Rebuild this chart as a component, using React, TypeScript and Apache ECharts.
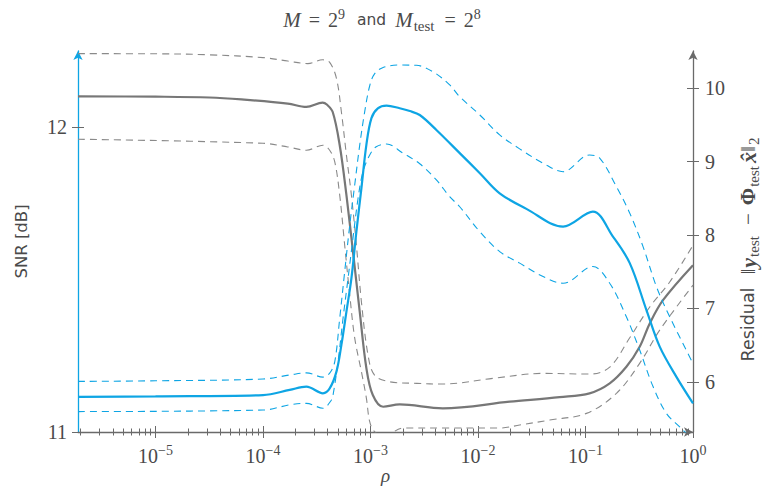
import React, { useEffect, useRef } from 'react';
import * as echarts from 'echarts';

// ---------- x range & ticks ----------
const RHO_MIN = 1.9e-6;
const RHO_MAX = 1;
const decadeTicks = [1e-5, 1e-4, 1e-3, 1e-2, 1e-1, 1];
const minorDecades = [1e-6, 1e-5, 1e-4, 1e-3, 1e-2, 1e-1];
const minorMultipliers = [2, 3, 4, 5, 6, 7, 8, 9];
const snrTicks = [11, 12];
const residualTicks = [6, 7, 8, 9, 10];

// ---------- SNR (left axis, blue) ----------
const rhoSnrMean = [1.9e-6, 1e-5, 1e-4, 1.77e-4, 2.53e-4, 3.61e-4, 4.17e-4, 4.82e-4, 5.36e-4, 5.97e-4, 6.64e-4, 7.39e-4, 8.23e-4, 9.15e-4, 1.02e-3, 1.17e-3, 1.41e-3, 1.87e-3, 2.32e-3, 2.87e-3, 4.1e-3, 6.76e-3, 1.04e-2, 1.59e-2, 2.82e-2, 6.18e-2, 0.117, 0.18, 0.258, 0.369, 0.49, 0.701, 1];
const snrMean = [11.115, 11.117, 11.121, 11.138, 11.149, 11.127, 11.143, 11.198, 11.286, 11.395, 11.504, 11.657, 11.8, 11.942, 12.03, 12.062, 12.071, 12.062, 12.053, 12.04, 11.991, 11.915, 11.849, 11.783, 11.732, 11.674, 11.723, 11.641, 11.554, 11.4, 11.28, 11.181, 11.094];

const rhoSnrUpper = [1.9e-6, 1e-5, 1e-4, 1.77e-4, 2.53e-4, 3.61e-4, 4.17e-4, 4.65e-4, 5.17e-4, 5.75e-4, 6.41e-4, 7.13e-4, 7.94e-4, 8.83e-4, 9.83e-4, 1.09e-3, 1.31e-3, 1.87e-3, 2.67e-3, 3.81e-3, 5.45e-3, 6.76e-3, 1.04e-2, 1.59e-2, 2.44e-2, 4.03e-2, 6.18e-2, 0.109, 0.136, 0.194, 0.258, 0.343, 0.457, 0.607, 1];
const snrUpper = [11.166, 11.168, 11.174, 11.187, 11.194, 11.18, 11.193, 11.231, 11.373, 11.526, 11.679, 11.811, 11.942, 12.051, 12.136, 12.175, 12.196, 12.204, 12.203, 12.182, 12.139, 12.1, 12.04, 11.975, 11.929, 11.882, 11.854, 11.909, 11.898, 11.805, 11.718, 11.608, 11.477, 11.378, 11.225];

const rhoSnrLower = [1.9e-6, 1e-4, 1.77e-4, 2.53e-4, 3.61e-4, 4.33e-4, 4.48e-4, 4.99e-4, 5.55e-4, 6.18e-4, 6.87e-4, 7.66e-4, 8.51e-4, 9.83e-4, 1.13e-3, 1.41e-3, 2.0e-3, 2.87e-3, 4.1e-3, 5.45e-3, 6.76e-3, 1.04e-2, 1.59e-2, 2.44e-2, 4.03e-2, 6.18e-2, 0.117, 0.168, 0.24, 0.319, 0.425, 0.566, 0.752, 1];
const snrLower = [11.067, 11.072, 11.089, 11.094, 11.078, 11.105, 11.121, 11.231, 11.373, 11.504, 11.636, 11.767, 11.854, 11.909, 11.936, 11.945, 11.915, 11.88, 11.827, 11.772, 11.739, 11.657, 11.592, 11.554, 11.51, 11.488, 11.543, 11.488, 11.378, 11.269, 11.149, 11.061, 11.017, 10.974];

// ---------- Residual (right axis, gray) ----------
const rhoResMean = [1.9e-6, 1e-5, 3.16e-5, 6.3e-5, 1.7e-4, 2.53e-4, 3.59e-4, 3.92e-4, 4.45e-4, 5.17e-4, 5.97e-4, 6.87e-4, 7.94e-4, 9.15e-4, 1.05e-3, 1.31e-3, 1.87e-3, 4.7e-3, 1.97e-2, 5.75e-2, 0.109, 0.168, 0.24, 0.319, 0.396, 0.526, 1];
const resMean = [9.892, 9.887, 9.876, 9.85, 9.793, 9.747, 9.807, 9.78, 9.678, 9.225, 8.544, 7.771, 6.954, 6.187, 5.819, 5.659, 5.692, 5.638, 5.728, 5.79, 5.842, 5.978, 6.204, 6.477, 6.796, 7.113, 7.59];

const rhoResUpper = [1.9e-6, 1e-5, 3.16e-5, 1e-4, 1.7e-4, 2.61e-4, 3.59e-4, 4.17e-4, 4.82e-4, 5.36e-4, 5.97e-4, 6.64e-4, 7.39e-4, 8.23e-4, 9.48e-4, 1.09e-3, 1.51e-3, 2.69e-3, 4.7e-3, 1.37e-2, 4.0e-2, 0.109, 0.168, 0.258, 0.396, 0.607, 1];
const resUpper = [10.474, 10.472, 10.458, 10.42, 10.373, 10.338, 10.39, 10.355, 10.137, 9.678, 9.089, 8.544, 7.862, 7.09, 6.364, 6.091, 6.0, 5.978, 5.969, 6.046, 6.114, 6.105, 6.2, 6.6, 7.02, 7.36, 7.86];

const rhoResLower = [1.9e-6, 1e-4, 1.7e-4, 2.53e-4, 3.61e-4, 4.17e-4, 4.65e-4, 5.17e-4, 5.75e-4, 6.41e-4, 7.13e-4, 8.23e-4, 9.15e-4, 9.83e-4, 1.09e-3, 1.35e-3, 2.0e-3, 5.45e-3, 1.59e-2, 2.44e-2, 4.65e-2, 0.102, 0.194, 0.319, 0.49, 1];
const resLower = [9.307, 9.252, 9.202, 9.157, 9.225, 9.157, 8.997, 8.544, 7.862, 7.181, 6.595, 6.136, 5.778, 5.455, 5.319, 5.26, 5.369, 5.369, 5.369, 5.41, 5.478, 5.569, 5.842, 6.251, 6.704, 7.317];

const BLUE = '#0ea5e4';
const GRAY_LINE = '#777777';
const GRAY_DASH = '#8a8a8a';
const AXIS_GRAY = '#6a6a6a';
const TEXT = '#4a4a4a';
const SERIF = 'Liberation Serif';
const SANS = 'DejaVu Sans';

const pairs = (xs: number[], ys: number[]) => xs.map((x, i) => [x, ys[i]]);

const minorTicks: number[] = [];
minorDecades.forEach((d) => minorMultipliers.forEach((m) => {
  const v = parseFloat((m * d).toPrecision(3));
  if (v > RHO_MIN && v < RHO_MAX) minorTicks.push(v);
}));

const baseLog = {
  type: 'log' as const,
  logBase: 10,
  min: RHO_MIN,
  max: RHO_MAX,
  gridIndex: 0,
  position: 'bottom' as const,
  splitLine: { show: false },
  minorTick: { show: false },
  minorSplitLine: { show: false },
};

const tickFmt = (v: number) => {
  const e = Math.round(Math.log10(v));
  return `{b|10}{s|${e < 0 ? '\u2212' + -e : e}}`;
};

const SNR_MIN = 11;
const SNR_MAX = 12.25;
const RES_MIN = 5.315;
const RES_MAX = 10.51;

const option: any = {
  animation: false,
  backgroundColor: '#ffffff',
  grid: { left: 78, right: 71, top: 51, bottom: 55, containLabel: false, outerBoundsMode: 'none' },
  title: {
    text: '{mi|M}{op|=}{r|2}{sup|9}{sf|and}{mi|M}{sub|test}{op|=}{r|2}{sup|8}',
    left: 'center',
    top: 2,
    textStyle: {
      fontWeight: 'normal',
      rich: {
        mi: { fontFamily: SERIF, fontStyle: 'italic', fontWeight: 'normal', fontSize: 21, lineHeight: 26, color: TEXT },
        op: { fontFamily: SERIF, fontWeight: 'normal', fontSize: 20, lineHeight: 26, padding: [0, 8, 0, 8], color: TEXT },
        r: { fontFamily: SERIF, fontWeight: 'normal', fontSize: 20, lineHeight: 26, color: TEXT },
        sf: { fontFamily: SANS, fontWeight: 'normal', fontSize: 15.5, lineHeight: 26, padding: [0, 9, 0, 12], color: TEXT },
        sup: { fontFamily: SERIF, fontWeight: 'normal', fontSize: 14, lineHeight: 14, verticalAlign: 'top', color: TEXT },
        sub: { fontFamily: SERIF, fontWeight: 'normal', fontSize: 15, lineHeight: 14, verticalAlign: 'bottom', padding: [0, 2, 0, 1], color: TEXT },
      },
    },
  },
  xAxis: [
    {
      ...baseLog,
      axisLine: { show: true, lineStyle: { color: AXIS_GRAY, width: 1.3 }, symbol: ['none', 'arrow'], symbolSize: [7, 9] },
      axisTick: { show: true, customValues: decadeTicks, length: 6, lineStyle: { color: AXIS_GRAY, width: 1 } },
      axisLabel: {
        show: true,
        customValues: decadeTicks,
        formatter: tickFmt,
        margin: 11,
        rich: {
          b: { fontFamily: SERIF, fontSize: 20, lineHeight: 26, color: TEXT },
          s: { fontFamily: SERIF, fontSize: 14, lineHeight: 15, verticalAlign: 'top', color: TEXT },
        },
      },
      name: '\u03c1',
      nameLocation: 'middle',
      nameGap: 34,
      nameMoveOverlap: false,
      nameTextStyle: { fontFamily: SERIF, fontStyle: 'italic', fontSize: 19, lineHeight: 19, color: TEXT },
    },
    {
      ...baseLog,
      axisLine: { show: false },
      axisTick: { show: true, inside: true, customValues: decadeTicks, length: 6, lineStyle: { color: AXIS_GRAY, width: 1 } },
      axisLabel: { show: false },
    },
    {
      ...baseLog,
      axisLine: { show: false },
      axisTick: { show: true, customValues: minorTicks, length: 3.5, lineStyle: { color: AXIS_GRAY, width: 1 } },
      axisLabel: { show: false },
    },
    {
      ...baseLog,
      axisLine: { show: false },
      axisTick: { show: true, inside: true, customValues: minorTicks, length: 3.5, lineStyle: { color: AXIS_GRAY, width: 1 } },
      axisLabel: { show: false },
    },
  ],
  yAxis: [
    {
      type: 'value',
      position: 'left',
      min: SNR_MIN,
      max: SNR_MAX,
      splitLine: { show: false },
      axisLine: { show: true, lineStyle: { color: BLUE, width: 1.3 }, symbol: ['none', 'arrow'], symbolSize: [7, 9] },
      axisTick: { show: true, customValues: snrTicks, length: 6, lineStyle: { color: AXIS_GRAY } },
      axisLabel: { show: true, customValues: snrTicks, margin: 11, fontFamily: SERIF, fontSize: 20, color: TEXT },
      name: 'SNR [dB]',
      nameLocation: 'middle',
      nameRotate: 90,
      nameGap: 48,
      nameTextStyle: { fontFamily: SANS, fontSize: 16.5, color: TEXT },
    },
    {
      type: 'value',
      position: 'right',
      min: RES_MIN,
      max: RES_MAX,
      splitLine: { show: false },
      axisLine: { show: true, lineStyle: { color: AXIS_GRAY, width: 1.3 }, symbol: ['none', 'arrow'], symbolSize: [7, 9] },
      axisTick: { show: true, customValues: residualTicks, length: 6, lineStyle: { color: AXIS_GRAY } },
      axisLabel: { show: true, customValues: residualTicks, margin: 12, fontFamily: SERIF, fontSize: 20, color: TEXT },
      name: '{sf|Residual}{n1|\u2016}{bi|y}{sb|test}{op|\u2212}{b|\u03a6}{sb|test}{bi|x\u0302}{n|\u2016}{se|2}',
      nameLocation: 'middle',
      nameRotate: 90,
      nameGap: 42,
      nameTextStyle: {
        rich: {
          sf: { fontFamily: SANS, fontSize: 17.5, lineHeight: 26, color: TEXT },
          n1: { fontFamily: SERIF, fontSize: 21, lineHeight: 26, padding: [0, 1, 0, 13], color: TEXT },
          n: { fontFamily: SERIF, fontSize: 21, lineHeight: 26, color: TEXT },
          op: { fontFamily: SERIF, fontSize: 21, lineHeight: 26, padding: [0, 8, 0, 8], color: TEXT },
          bi: { fontFamily: SERIF, fontSize: 22, fontWeight: 'bold', fontStyle: 'italic', lineHeight: 26, color: TEXT },
          b: { fontFamily: SERIF, fontSize: 21, fontWeight: 'bold', lineHeight: 26, color: TEXT },
          sb: { fontFamily: SERIF, fontSize: 15, lineHeight: 14, verticalAlign: 'bottom', padding: [0, 3, 0, 1], color: TEXT },
          se: { fontFamily: SERIF, fontSize: 15, lineHeight: 14, verticalAlign: 'bottom', padding: [0, 16, 0, 1], color: TEXT },
        },
      },
    },
    {
      type: 'value',
      position: 'left',
      min: SNR_MIN,
      max: SNR_MAX,
      splitLine: { show: false },
      axisLine: { show: false },
      axisTick: { show: true, inside: true, customValues: snrTicks, length: 6, lineStyle: { color: AXIS_GRAY } },
      axisLabel: { show: false },
    },
    {
      type: 'value',
      position: 'right',
      min: RES_MIN,
      max: RES_MAX,
      splitLine: { show: false },
      axisLine: { show: false },
      axisTick: { show: true, inside: true, customValues: residualTicks, length: 6, lineStyle: { color: AXIS_GRAY } },
      axisLabel: { show: false },
    },
  ],
  series: [
    {
      name: 'Residual upper', type: 'line', xAxisIndex: 0, yAxisIndex: 1, data: pairs(rhoResUpper, resUpper),
      smooth: 0.35, showSymbol: false, symbol: 'none', lineStyle: { color: GRAY_DASH, width: 1.1, type: [7, 5] },
    },
    {
      name: 'Residual lower', type: 'line', xAxisIndex: 0, yAxisIndex: 1, data: pairs(rhoResLower, resLower),
      smooth: 0.35, showSymbol: false, symbol: 'none', lineStyle: { color: GRAY_DASH, width: 1.1, type: [7, 5] },
    },
    {
      name: 'Residual mean', type: 'line', xAxisIndex: 0, yAxisIndex: 1, data: pairs(rhoResMean, resMean),
      smooth: 0.35, showSymbol: false, symbol: 'none', lineStyle: { color: GRAY_LINE, width: 2.2 },
    },
    {
      name: 'SNR upper', type: 'line', xAxisIndex: 0, yAxisIndex: 0, data: pairs(rhoSnrUpper, snrUpper),
      smooth: 0.35, showSymbol: false, symbol: 'none', lineStyle: { color: BLUE, width: 1.1, type: [7, 5] },
    },
    {
      name: 'SNR lower', type: 'line', xAxisIndex: 0, yAxisIndex: 0, data: pairs(rhoSnrLower, snrLower),
      smooth: 0.35, showSymbol: false, symbol: 'none', lineStyle: { color: BLUE, width: 1.1, type: [7, 5] },
    },
    {
      name: 'SNR mean', type: 'line', xAxisIndex: 0, yAxisIndex: 0, data: pairs(rhoSnrMean, snrMean),
      smooth: 0.35, showSymbol: false, symbol: 'none', lineStyle: { color: BLUE, width: 2.2 },
    },
  ],
};

export default function App() {
  const ref = useRef<HTMLDivElement>(null);
  useEffect(() => {
    document.body.style.margin = '0';
    const chart = echarts.init(ref.current as HTMLDivElement, null, { renderer: 'svg' });
    chart.setOption(option);
    return () => chart.dispose();
  }, []);
  return <div ref={ref} style={{ width: 764, height: 487 }} />;
}
